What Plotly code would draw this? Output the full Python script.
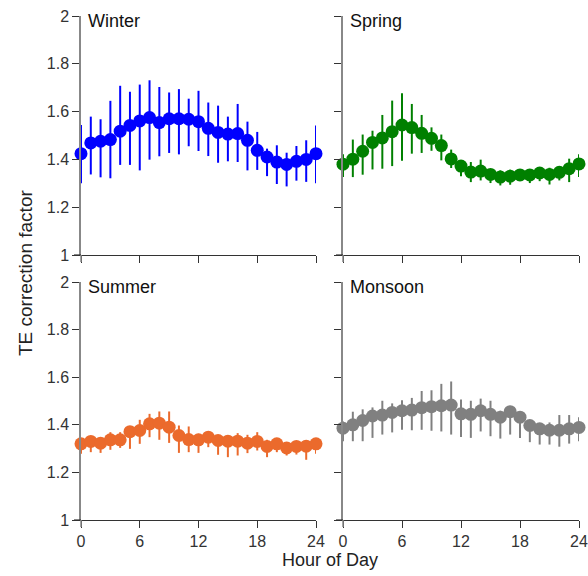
import plotly.graph_objects as go

hours = list(range(25))

winter = [1.424, 1.469, 1.476, 1.483, 1.518, 1.542, 1.561, 1.575, 1.554, 1.570, 1.570, 1.568, 1.558,
          1.530, 1.513, 1.506, 1.508, 1.480, 1.438, 1.410, 1.389, 1.379, 1.392, 1.400, 1.424]
winter_hi = [1.544, 1.579, 1.568, 1.645, 1.708, 1.683, 1.713, 1.731, 1.703, 1.680, 1.694, 1.654, 1.687,
             1.638, 1.625, 1.579, 1.632, 1.558, 1.515, 1.445, 1.459, 1.428, 1.456, 1.480, 1.542]
winter_lo = [1.300, 1.337, 1.325, 1.321, 1.377, 1.377, 1.354, 1.399, 1.413, 1.427, 1.421, 1.455, 1.435,
             1.414, 1.386, 1.392, 1.389, 1.354, 1.356, 1.330, 1.297, 1.287, 1.311, 1.306, 1.300]

spring = [1.380, 1.401, 1.434, 1.471, 1.490, 1.516, 1.544, 1.533, 1.509, 1.488, 1.458, 1.402, 1.372,
          1.347, 1.351, 1.337, 1.326, 1.330, 1.335, 1.335, 1.343, 1.337, 1.346, 1.361, 1.381]
spring_hi = [1.422, 1.483, 1.504, 1.520, 1.586, 1.646, 1.677, 1.632, 1.586, 1.534, 1.504, 1.441, 1.389,
             1.389, 1.399, 1.357, 1.354, 1.357, 1.357, 1.357, 1.368, 1.365, 1.371, 1.403, 1.422]
spring_lo = [1.326, 1.326, 1.336, 1.358, 1.361, 1.372, 1.394, 1.424, 1.427, 1.436, 1.396, 1.364, 1.329,
             1.305, 1.312, 1.301, 1.291, 1.294, 1.312, 1.301, 1.309, 1.295, 1.312, 1.305, 1.326]

summer = [1.320, 1.330, 1.323, 1.337, 1.337, 1.371, 1.376, 1.404, 1.407, 1.390, 1.355, 1.338, 1.337,
          1.348, 1.334, 1.331, 1.331, 1.323, 1.330, 1.309, 1.320, 1.303, 1.309, 1.310, 1.320]
summer_hi = [1.337, 1.345, 1.337, 1.369, 1.369, 1.390, 1.421, 1.446, 1.456, 1.456, 1.397, 1.393, 1.362,
             1.369, 1.348, 1.351, 1.365, 1.358, 1.369, 1.337, 1.341, 1.323, 1.327, 1.334, 1.341]
summer_lo = [1.278, 1.285, 1.282, 1.295, 1.303, 1.299, 1.320, 1.348, 1.337, 1.324, 1.282, 1.285, 1.282,
             1.306, 1.274, 1.264, 1.271, 1.281, 1.292, 1.264, 1.285, 1.271, 1.275, 1.253, 1.278]

monsoon = [1.386, 1.400, 1.418, 1.437, 1.441, 1.452, 1.459, 1.462, 1.472, 1.476, 1.480, 1.483, 1.446,
           1.444, 1.459, 1.444, 1.432, 1.455, 1.432, 1.397, 1.383, 1.377, 1.377, 1.383, 1.389]
monsoon_hi = [1.414, 1.455, 1.465, 1.473, 1.501, 1.490, 1.503, 1.513, 1.542, 1.545, 1.572, 1.582, 1.506,
              1.501, 1.510, 1.501, 1.459, 1.469, 1.448, 1.418, 1.404, 1.410, 1.441, 1.441, 1.432]
monsoon_lo = [1.331, 1.331, 1.331, 1.345, 1.359, 1.368, 1.379, 1.377, 1.379, 1.375, 1.372, 1.359, 1.349,
              1.345, 1.372, 1.352, 1.342, 1.359, 1.345, 1.327, 1.317, 1.317, 1.308, 1.321, 1.331]

seasons = ["Winter", "Spring", "Summer", "Monsoon"]
colors = ["#0000FF", "#008000", "#EB6A2C", "#808080"]
x_ticks = [0, 6, 12, 18, 24]
y_ticks = [1, 1.2, 1.4, 1.6, 1.8, 2]
y_tick_text = ["1", "1.2", "1.4", "1.6", "1.8", "2"]

series = [(winter, winter_hi, winter_lo), (spring, spring_hi, spring_lo),
          (summer, summer_hi, summer_lo), (monsoon, monsoon_hi, monsoon_lo)]

W, H = 588, 576
xdoms = [(81 / W, 316 / W), (343 / W, 579 / W)]
ydoms = [(1 - 255 / H, 1 - 16 / H), (1 - 520 / H, 1 - 282 / H)]
TL = 7

fig = go.Figure()
font = dict(family="Liberation Sans, Arial, sans-serif", color="#222222")

for i, (name, col, (v, hi, lo)) in enumerate(zip(seasons, colors, series)):
    r, c = divmod(i, 2)
    n = i + 1
    xa = "x" if n == 1 else f"x{n}"
    ya = "y" if n == 1 else f"y{n}"
    fig.add_trace(go.Scatter(
        x=hours, y=v, mode="markers", xaxis=xa, yaxis=ya,
        marker=dict(color=col, size=13, line=dict(width=0)),
        error_y=dict(type="data", symmetric=False,
                     array=[h - m for h, m in zip(hi, v)],
                     arrayminus=[m - l for m, l in zip(v, lo)],
                     color=col, thickness=2, width=0),
        showlegend=False, cliponaxis=False, hoverinfo="skip",
    ))
    xkey = "xaxis" if n == 1 else f"xaxis{n}"
    ykey = "yaxis" if n == 1 else f"yaxis{n}"
    fig.layout[xkey] = dict(
        domain=list(xdoms[c]), range=[0, 24], anchor=ya, automargin=False,
        tickvals=x_ticks, showticklabels=(r == 1),
        ticks="outside", ticklen=TL, tickcolor="#333333", tickwidth=1.2,
        showline=True, linecolor="#333333", linewidth=1.2,
        showgrid=False, zeroline=False,
        tickfont=dict(size=16, color="#333333"),
    )
    fig.layout[ykey] = dict(
        domain=list(ydoms[r]), range=[1, 2], anchor=xa, automargin=False,
        tickvals=y_ticks, ticktext=y_tick_text, showticklabels=(c == 0),
        ticks="outside", ticklen=TL, tickcolor="#333333", tickwidth=1.2,
        showline=True, linecolor="#888888", linewidth=1.5,
        showgrid=False, zeroline=False,
        tickfont=dict(size=16, color="#333333"),
    )
    # axis-line overhang (lines extend past the corner by tick length)
    fig.add_shape(type="line", xref="paper", yref="paper",
                  x0=xdoms[c][0] - TL / W, x1=xdoms[c][0],
                  y0=ydoms[r][0], y1=ydoms[r][0],
                  line=dict(color="#333333", width=1.2))
    fig.add_shape(type="line", xref="paper", yref="paper",
                  x0=xdoms[c][0], x1=xdoms[c][0],
                  y0=ydoms[r][0] - TL / H, y1=ydoms[r][0],
                  line=dict(color="#888888", width=1.5))
    fig.add_annotation(
        text=name, xref="paper", yref="paper",
        x=xdoms[c][0] + 5 / W, y=ydoms[r][1] + 7 / H,
        xanchor="left", yanchor="top", showarrow=False,
        font=dict(size=18, color="#111111"),
    )

fig.add_annotation(text="Hour of Day", xref="paper", yref="paper",
                   x=(81 + 579) / 2 / W, y=1 - 560 / H, xanchor="center", yanchor="middle",
                   showarrow=False, font=dict(size=18, color="#222222"))
fig.add_annotation(text="TE correction factor", xref="paper", yref="paper",
                   x=26 / W, y=1 - 273 / H, xanchor="center", yanchor="middle", textangle=-90,
                   showarrow=False, font=dict(size=19, color="#222222"))

fig.update_layout(
    template="none",
    width=W, height=H, margin=dict(l=0, r=0, t=0, b=0, autoexpand=False),
    paper_bgcolor="white", plot_bgcolor="white", font=font,
)

fig.write_html("out.html", config={"displayModeBar": False},
               post_script="document.body.style.margin='0';document.body.style.overflow='hidden';")
